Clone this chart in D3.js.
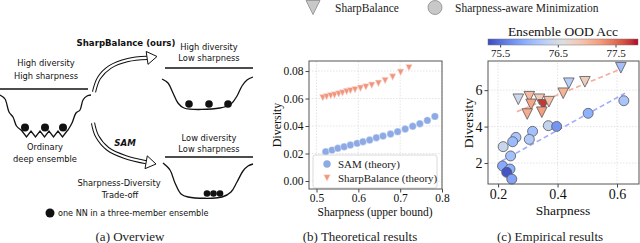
<!DOCTYPE html>
<html>
<head>
<meta charset="utf-8">
<script src="https://cdn.jsdelivr.net/npm/d3@7"></script>
<style>
body { margin: 0; background: #fff; }
svg { display: block; }
</style>
</head>
<body>
<script>
// (b) theoretical curves
var samX = [0.522, 0.537, 0.551, 0.566, 0.581, 0.597, 0.611, 0.627, 0.643, 0.659, 0.677, 0.694, 0.712, 0.730, 0.747, 0.765, 0.783];
var samY = [0.0213, 0.0225, 0.0238, 0.0249, 0.0262, 0.0274, 0.0286, 0.0298, 0.0315, 0.0327, 0.0342, 0.0359, 0.0378, 0.0398, 0.0417, 0.0441, 0.0470];
var sbX = [0.515, 0.524, 0.534, 0.543, 0.553, 0.562, 0.572, 0.581, 0.592, 0.605, 0.618, 0.632, 0.648, 0.664, 0.682, 0.701, 0.721];
var sbY = [0.0606, 0.0613, 0.0620, 0.0625, 0.0633, 0.0640, 0.0650, 0.0657, 0.0664, 0.0674, 0.0684, 0.0696, 0.0710, 0.0730, 0.0756, 0.0790, 0.0824];
var bXTicks = [0.5, 0.6, 0.7, 0.8];
var bYTicks = [0, 0.02, 0.04, 0.06, 0.08];

// (c) empirical results
var sbSharp = [0.268, 0.305, 0.311, 0.298, 0.339, 0.352, 0.347, 0.371, 0.419, 0.438, 0.492, 0.613];
var sbDiv   = [5.50, 5.64, 5.22, 4.69, 5.50, 5.19, 4.79, 5.37, 5.83, 6.38, 6.46, 7.23];
var sbAcc   = [76.45, 77.0, 77.15, 77.1, 76.85, 77.75, 77.2, 76.95, 77.05, 76.25, 76.8, 76.1];
var samSharp = [0.623, 0.503, 0.369, 0.397, 0.316, 0.305, 0.260, 0.249, 0.217, 0.242, 0.215, 0.240, 0.229, 0.246];
var samDiv   = [5.42, 4.73, 4.05, 4.01, 3.74, 3.30, 3.41, 3.17, 2.90, 2.39, 1.84, 1.67, 1.49, 1.12];
var samAcc   = [76.15, 75.95, 76.35, 75.75, 76.1, 76.2, 76.15, 76.05, 76.4, 76.1, 75.9, 75.95, 75.35, 75.85];
var sbFit  = [[0.263, 4.82], [0.613, 7.16]];
var samFit = [[0.212, 2.11], [0.627, 5.83]];
var cXTicks = [0.2, 0.4, 0.6];
var cYTicks = [2, 4, 6];
var accTicks = [75.5, 76.5, 77.5];

var coolwarm = ["#3b4cc0", "#6282ea", "#8db0fe", "#b8d0f9", "#dddddd", "#f5c4ad", "#f49a7b", "#de604d", "#b40426"];

var width = 640, height = 243;
var serif = "'Liberation Serif', 'Times New Roman', serif";
var hand = "'DejaVu Sans', sans-serif";

var svg = d3.select("body").append("svg")
    .attr("width", width)
    .attr("height", height)
    .style("background", "#fff");

function tri(s){
    return "M" + (-s) + "," + (-s) + "L" + s + "," + (-s) + "L0," + s + "Z";
}

// ---------- top legend ----------
svg.append("path").attr("d", tri(7)).attr("transform", "translate(313,7.5)")
    .attr("fill", "#c8c8c8").attr("stroke", "#8a8a8a").attr("stroke-width", 0.8);
svg.append("text").attr("x", 335).attr("y", 12).text("SharpBalance")
    .style("font-family", serif).style("font-size", "11.5px").attr("fill", "#222");
svg.append("circle").attr("cx", 435).attr("cy", 7.5).attr("r", 7)
    .attr("fill", "#c8c8c8").attr("stroke", "#8a8a8a").attr("stroke-width", 0.8);
svg.append("text").attr("x", 455).attr("y", 12).text("Sharpness-aware Minimization")
    .style("font-family", serif).style("font-size", "11.5px").attr("fill", "#222");

// ---------- (a) overview diagram ----------
var ga = svg.append("g");
var curve = d3.line().curve(d3.curveCatmullRom.alpha(0.5));

function label(g, x, y, t, opts){
    opts = opts || {};
    return g.append("text").attr("x", x).attr("y", y).text(t)
        .attr("text-anchor", opts.anchor || "middle")
        .style("font-family", hand)
        .style("font-size", (opts.size || 8.3) + "px")
        .style("font-weight", opts.bold ? "bold" : "normal")
        .style("font-style", opts.italic ? "italic" : "normal")
        .attr("fill", "#111");
}

// left well
ga.append("line").attr("x1", 0).attr("x2", 88).attr("y1", 89).attr("y2", 89)
    .attr("stroke", "#111").attr("stroke-width", 1.3);
var leftWall = [[0, 95], [5, 99], [9, 112], [13, 117], [16.5, 126], [21, 130]];
var zig = [];
for (var i = 0; i <= 10; i++) zig.push([22 + i * 4.5, i % 2 ? 137 : 131]);
var rightWall = [[68, 130], [72, 123], [76, 113], [80, 110], [83, 100], [87, 96], [91, 95]];
ga.append("path").attr("d", curve(leftWall) + "L" + zig.map(function(p){ return p.join(","); }).join("L") + curve(rightWall).replace("M", "L"))
    .attr("fill", "none").attr("stroke", "#111").attr("stroke-width", 1.3);
[25, 45, 63].forEach(function(x){
    ga.append("circle").attr("cx", x).attr("cy", 127.5).attr("r", 4).attr("fill", "#111");
});

label(ga, 46, 66, "High diversity");
label(ga, 46, 79, "High sharpness");
label(ga, 45, 150, "Ordinary");
label(ga, 45, 162, "deep ensemble");
label(ga, 126, 46, "SharpBalance (ours)", {bold: true, size: 8.6});
label(ga, 125, 146, "SAM", {bold: true, italic: true, size: 8.6});
label(ga, 119, 186, "Sharpness-Diversity");
label(ga, 120, 198, "Trade-off");
ga.append("circle").attr("cx", 50).attr("cy", 213).attr("r", 4.5).attr("fill", "#111");
label(ga, 58, 216, "one NN in a three-member ensemble", {anchor: "start", size: 8.1});

// hollow curved arrows
function arrow(g, pts, tip, ang){
    var L = 10, w = 6.5;
    var a = ang * Math.PI / 180;
    var bx = tip[0] - L * Math.cos(a), by = tip[1] - L * Math.sin(a);
    var body = pts.concat([[bx, by]]);
    g.append("path").attr("d", curve(body)).attr("fill", "none")
        .attr("stroke", "#111").attr("stroke-width", 4.2);
    g.append("path").attr("d", curve(body)).attr("fill", "none")
        .attr("stroke", "#fff").attr("stroke-width", 2.2);
    var c1 = [bx - w * -Math.sin(a), by - w * Math.cos(a)];
    var c2 = [bx + w * -Math.sin(a), by + w * Math.cos(a)];
    g.append("path").attr("d", "M" + c1 + "L" + tip + "L" + c2 + "Z")
        .attr("fill", "#fff").attr("stroke", "#111").attr("stroke-width", 1);
}
arrow(ga, [[94, 92], [99, 78], [110, 67], [128, 60]], [157, 56.5], -8);
arrow(ga, [[93, 123], [97, 136], [108, 149], [125, 157]], [156, 164], 10);

// top-right well
ga.append("line").attr("x1", 165).attr("x2", 253).attr("y1", 68).attr("y2", 68)
    .attr("stroke", "#111").attr("stroke-width", 1.3);
ga.append("path").attr("d", curve([[162, 79], [168, 83], [173, 93], [178, 103], [184, 108], [220, 108], [231, 104], [237, 96], [242, 86], [247, 80], [253, 77]]))
    .attr("fill", "none").attr("stroke", "#111").attr("stroke-width", 1.3);
[189, 209, 228].forEach(function(x){
    ga.append("circle").attr("cx", x).attr("cy", 104).attr("r", 3.8).attr("fill", "#111");
});
label(ga, 209, 50, "High diversity");
label(ga, 209, 61, "Low sharpness");

// bottom-right well
ga.append("line").attr("x1", 165).attr("x2", 253).attr("y1", 157).attr("y2", 157)
    .attr("stroke", "#111").attr("stroke-width", 1.3);
ga.append("path").attr("d", curve([[163, 163], [170, 170], [175, 183], [181, 194], [188, 197], [222, 197], [231, 192], [237, 182], [243, 171], [248, 166], [253, 164]]))
    .attr("fill", "none").attr("stroke", "#111").attr("stroke-width", 1.3);
[207, 213.5, 220].forEach(function(x){
    ga.append("circle").attr("cx", x).attr("cy", 193.5).attr("r", 3.3).attr("fill", "#111");
});
label(ga, 209, 141, "Low diversity");
label(ga, 209, 152, "Low sharpness");

// ---------- shared axis helper ----------
function frame(g, x, y, xt, yt, fmtX, fmtY, tickSize){
    var x0 = x.range()[0], x1 = x.range()[1], y0 = y.range()[0], y1 = y.range()[1];
    g.selectAll(".gx").data(xt).enter().append("line")
        .attr("x1", function(d){ return x(d); }).attr("x2", function(d){ return x(d); })
        .attr("y1", y0).attr("y2", y1)
        .attr("stroke", "#d9d9d9").attr("stroke-width", 0.7).attr("stroke-dasharray", "1.5,1.5");
    g.selectAll(".gy").data(yt).enter().append("line")
        .attr("y1", function(d){ return y(d); }).attr("y2", function(d){ return y(d); })
        .attr("x1", x0).attr("x2", x1)
        .attr("stroke", "#d9d9d9").attr("stroke-width", 0.7).attr("stroke-dasharray", "1.5,1.5");
    var ax = g.append("g").attr("transform", "translate(0," + y0 + ")")
        .call(d3.axisBottom(x).tickValues(xt).tickFormat(fmtX).tickSize(3.5).tickPadding(1.5));
    var ay = g.append("g").attr("transform", "translate(" + x0 + ",0)")
        .call(d3.axisLeft(y).tickValues(yt).tickFormat(fmtY).tickSize(3.5).tickPadding(2));
    [ax, ay].forEach(function(a){
        a.select(".domain").remove();
        a.selectAll("line").attr("stroke", "#444");
        a.selectAll("text").style("font-family", serif).style("font-size", tickSize + "px").attr("fill", "#111");
    });
}

// ---------- (b) theoretical results ----------
var gb = svg.append("g");
var xb = d3.scaleLinear().domain([0.482, 0.8]).range([309, 442]);
var yb = d3.scaleLinear().domain([-0.0058, 0.0873]).range([189, 61]);
frame(gb, xb, yb, bXTicks, bYTicks, d3.format(".1f"), d3.format(".2f"), 11.5);

var samPts = samX.map(function(d, i){ return [d, samY[i]]; });
var sbPts = sbX.map(function(d, i){ return [d, sbY[i]]; });
gb.selectAll(".sam").data(samPts).enter().append("circle")
    .attr("cx", function(d){ return xb(d[0]); }).attr("cy", function(d){ return yb(d[1]); })
    .attr("r", 3.7).attr("fill", "#8eaae4").attr("stroke", "#fff").attr("stroke-width", 0.4);
gb.selectAll(".sb").data(sbPts).enter().append("path")
    .attr("d", tri(3.3))
    .attr("transform", function(d){ return "translate(" + xb(d[0]) + "," + yb(d[1]) + ")"; })
    .attr("fill", "#f0967f").attr("stroke", "#fbe0d8").attr("stroke-width", 0.6);

// legend
var lb = gb.append("g");
lb.append("rect").attr("x", 313).attr("y", 155).attr("width", 124).attr("height", 33).attr("rx", 2)
    .attr("fill", "#fff").attr("fill-opacity", 0.85).attr("stroke", "#d0d0d0").attr("stroke-width", 0.8);
lb.append("circle").attr("cx", 327).attr("cy", 164).attr("r", 3.7).attr("fill", "#8eaae4");
lb.append("path").attr("d", tri(3.3)).attr("transform", "translate(327,178)")
    .attr("fill", "#f0967f").attr("stroke", "#fbe0d8").attr("stroke-width", 0.6);
lb.append("text").attr("x", 338).attr("y", 168).text("SAM (theory)")
    .style("font-family", serif).style("font-size", "11px").attr("fill", "#222");
lb.append("text").attr("x", 338).attr("y", 182).text("SharpBalance (theory)")
    .style("font-family", serif).style("font-size", "11px").attr("fill", "#222");

gb.append("rect").attr("x", 309).attr("y", 61).attr("width", 133).attr("height", 128)
    .attr("fill", "none").attr("stroke", "#555").attr("stroke-width", 1);
gb.append("text").attr("transform", "translate(281,125) rotate(-90)").attr("text-anchor", "middle")
    .text("Diversity").style("font-family", serif).style("font-size", "12px").attr("fill", "#111");
gb.append("text").attr("x", 375).attr("y", 216).attr("text-anchor", "middle")
    .text("Sharpness (upper bound)").style("font-family", serif).style("font-size", "11.5px").attr("fill", "#111");

// ---------- (c) empirical results ----------
var gc = svg.append("g");
var xc = d3.scaleLinear().domain([0.166, 0.674]).range([488, 639]);
var yc = d3.scaleLinear().domain([0.85, 7.6]).range([184, 61]);
frame(gc, xc, yc, cXTicks, cYTicks, d3.format(".1f"), d3.format("d"), 14);

var accScale = d3.scaleLinear().domain([75.29, 77.89]).range([488, 638]);
var cmap = d3.scaleLinear()
    .domain(coolwarm.map(function(d, i){ return 75.29 + (77.89 - 75.29) * i / (coolwarm.length - 1); }))
    .range(coolwarm).interpolate(d3.interpolateLab).clamp(true);

var fitLine = d3.line().x(function(d){ return xc(d[0]); }).y(function(d){ return yc(d[1]); });
gc.append("path").attr("d", fitLine(samFit)).attr("fill", "none")
    .attr("stroke", "#a3acfb").attr("stroke-width", 1.6).attr("stroke-dasharray", "5,3");
gc.append("path").attr("d", fitLine(sbFit)).attr("fill", "none")
    .attr("stroke", "#f7ab9c").attr("stroke-width", 1.6).attr("stroke-dasharray", "5,3");

var samEmp = samSharp.map(function(d, i){ return {x: d, y: samDiv[i], a: samAcc[i]}; });
var sbEmp = sbSharp.map(function(d, i){ return {x: d, y: sbDiv[i], a: sbAcc[i]}; });
gc.selectAll(".ce").data(samEmp).enter().append("circle")
    .attr("cx", function(d){ return xc(d.x); }).attr("cy", function(d){ return yc(d.y); })
    .attr("r", 5).attr("fill", function(d){ return cmap(d.a); })
    .attr("stroke", "#555").attr("stroke-width", 0.8);
gc.selectAll(".te").data(sbEmp).enter().append("path")
    .attr("d", tri(5.3))
    .attr("transform", function(d){ return "translate(" + xc(d.x) + "," + yc(d.y) + ")"; })
    .attr("fill", function(d){ return cmap(d.a); })
    .attr("stroke", "#555").attr("stroke-width", 0.8);

gc.append("rect").attr("x", 488).attr("y", 61).attr("width", 151).attr("height", 123)
    .attr("fill", "none").attr("stroke", "#555").attr("stroke-width", 1);
gc.append("text").attr("transform", "translate(473,123) rotate(-90)").attr("text-anchor", "middle")
    .text("Diversity").style("font-family", serif).style("font-size", "13.5px").attr("fill", "#111");
gc.append("text").attr("x", 563).attr("y", 215).attr("text-anchor", "middle")
    .text("Sharpness").style("font-family", serif).style("font-size", "13.5px").attr("fill", "#111");

// colorbar
var defs = svg.append("defs");
var grad = defs.append("linearGradient").attr("id", "cw");
d3.range(0, 1.0001, 0.05).forEach(function(t){
    var v = 75.29 + t * (77.89 - 75.29);
    grad.append("stop").attr("offset", (t * 100) + "%").attr("stop-color", cmap(v));
});
gc.append("rect").attr("x", 488).attr("y", 39).attr("width", 150).attr("height", 6)
    .attr("fill", "url(#cw)").attr("stroke", "#777").attr("stroke-width", 0.5);
var cb = gc.append("g").attr("transform", "translate(0,45)")
    .call(d3.axisBottom(accScale).tickValues(accTicks).tickFormat(d3.format(".1f")).tickSize(2.5).tickPadding(1.5));
cb.select(".domain").remove();
cb.selectAll("line").attr("stroke", "#444");
cb.selectAll("text").style("font-family", serif).style("font-size", "11px").attr("fill", "#111");
gc.append("text").attr("x", 563).attr("y", 35.5).attr("text-anchor", "middle")
    .text("Ensemble OOD Acc").style("font-family", serif).style("font-size", "13.5px").attr("fill", "#111");

// ---------- captions ----------
[["(a) Overview", 130], ["(b) Theoretical results", 360], ["(c) Empirical results", 550]].forEach(function(c){
    svg.append("text").attr("x", c[1]).attr("y", 241).attr("text-anchor", "middle").text(c[0])
        .style("font-family", serif).style("font-size", "13px").attr("fill", "#222");
});
</script>
</body>
</html>
